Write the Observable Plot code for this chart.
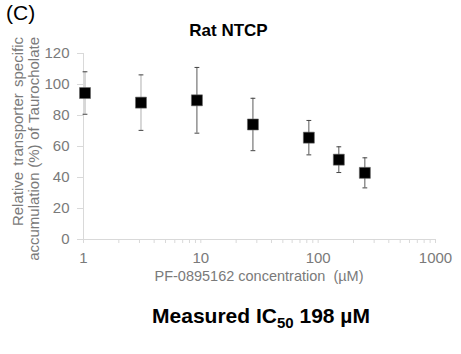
<!DOCTYPE html>
<html><head><meta charset="utf-8">
<script src="https://cdn.jsdelivr.net/npm/d3@7"></script>
<script src="https://cdn.jsdelivr.net/npm/@observablehq/plot@0.6"></script>
<style>
body{margin:0;background:#fff}
#chart svg{font-family:"Liberation Sans",Arial,sans-serif;display:block}
</style>
</head><body><div id="chart"></div>
<script>
// Data
const concentrations = [1.03, 3.09, 9.26, 27.8, 83.3, 150, 250];   // µM
const meanAccum      = [94.5, 88.3, 89.8, 74.2, 65.7, 51.5, 43.0]; // %
const errAccum       = [13.7, 17.9, 21.2, 16.9, 11.1, 8.3, 9.7];   // ± %
const xMajorTicks = [1, 10, 100, 1000];
const yTicks = [0, 20, 40, 60, 80, 100, 120];
const xMinorTicks = [2,3,4,5,6,7,8,9,20,30,40,50,60,70,80,90,200,300,400,500,600,700,800,900];

const panelLabel = "(C)";
const chartTitle = "Rat NTCP";
const xTitle = "PF-0895162 concentration  (\u00B5M)";
const yTitle1 = "Relative transporter specific";
const yTitle2 = "accumulation (%) of Taurocholate";

const data = concentrations.map((c, i) => ({c, m: meanAccum[i], lo: meanAccum[i] - errAccum[i], hi: meanAccum[i] + errAccum[i], i}));
const capSymbol = {draw(ctx, size) { const w = Math.sqrt(size / Math.PI); ctx.moveTo(-w, 0); ctx.lineTo(w, 0); }};

const axisGray = "#d9d9d9";
const textGray = "#7a7a7a";

const plot = Plot.plot({
  width: 461, height: 354,
  marginLeft: 83, marginRight: 26, marginTop: 53, marginBottom: 115,
  style: {fontFamily: "'Liberation Sans', Arial, sans-serif", fontSize: "14px", background: "#fff"},
  x: {type: "log", domain: [1, 1000]},
  y: {domain: [0, 120]},
  marks: [
    Plot.ruleX([1], {y1: -1, y2: 120, stroke: axisGray}),
    Plot.ruleY([0], {stroke: axisGray}),
    Plot.axisY({ticks: yTicks, tickSize: 6, tickPadding: 8, stroke: axisGray, fill: textGray, label: null, fontSize: 15}),
    Plot.axisX({ticks: xMajorTicks, tickSize: 4, tickPadding: 9, stroke: axisGray, fill: textGray, tickFormat: d => String(d), label: null, fontSize: 15}),
    Plot.axisX({ticks: xMinorTicks, tickSize: 4, stroke: axisGray, tickFormat: () => "", label: null}),
    Plot.ruleX(data.filter(d => d.i < 2), {x: "c", y1: "lo", y2: "hi", stroke: "#bdbdbd", strokeWidth: 1.2}),
    Plot.ruleX(data.filter(d => d.i >= 2), {x: "c", y1: "lo", y2: "hi", stroke: "#5a5a5a", strokeWidth: 1}),
    Plot.dot(data, {x: "c", y: "hi", symbol: capSymbol, r: 2.4, stroke: "#444", strokeWidth: 1}),
    Plot.dot(data, {x: "c", y: "lo", symbol: capSymbol, r: 2.4, stroke: "#444", strokeWidth: 1}),
    Plot.dot(data, {x: "c", y: "m", symbol: "square", r: 6.2, fill: "#000", stroke: "#666", strokeWidth: 0.6})
  ]
});

const svg = d3.select(plot);
const font = "'Liberation Sans', Arial, sans-serif";
svg.append("text").attr("x", 6).attr("y", 20).attr("text-anchor", "start").attr("font-size", 21).attr("fill", "#000").attr("font-family", font).text(panelLabel);
svg.append("text").attr("x", 228.5).attr("y", 36).attr("text-anchor", "middle").attr("font-size", 17).attr("font-weight", "bold").attr("fill", "#000").attr("font-family", font).text(chartTitle);
svg.append("text").attr("transform", "translate(23,37) rotate(-90)").attr("text-anchor", "end").attr("font-size", 15).attr("word-spacing", 2).attr("fill", textGray).attr("font-family", font).text(yTitle1);
svg.append("text").attr("transform", "translate(39,37) rotate(-90)").attr("text-anchor", "end").attr("font-size", 15).attr("word-spacing", 0.5).attr("fill", textGray).attr("font-family", font).text(yTitle2);
svg.append("text").attr("x", 259).attr("y", 281).attr("text-anchor", "middle").attr("font-size", 14.5).attr("fill", textGray).attr("font-family", font).style("white-space", "pre").text(xTitle);
const m = svg.append("text").attr("x", 261).attr("y", 323).attr("text-anchor", "middle").attr("font-size", 21).attr("font-weight", "bold").attr("fill", "#000").attr("font-family", font);
m.append("tspan").text("Measured IC");
m.append("tspan").attr("font-size", 15).attr("dy", 5).text("50");
m.append("tspan").attr("dy", -5).text(" 198 \u00B5M");

document.getElementById("chart").appendChild(plot);
</script>
</body></html>
